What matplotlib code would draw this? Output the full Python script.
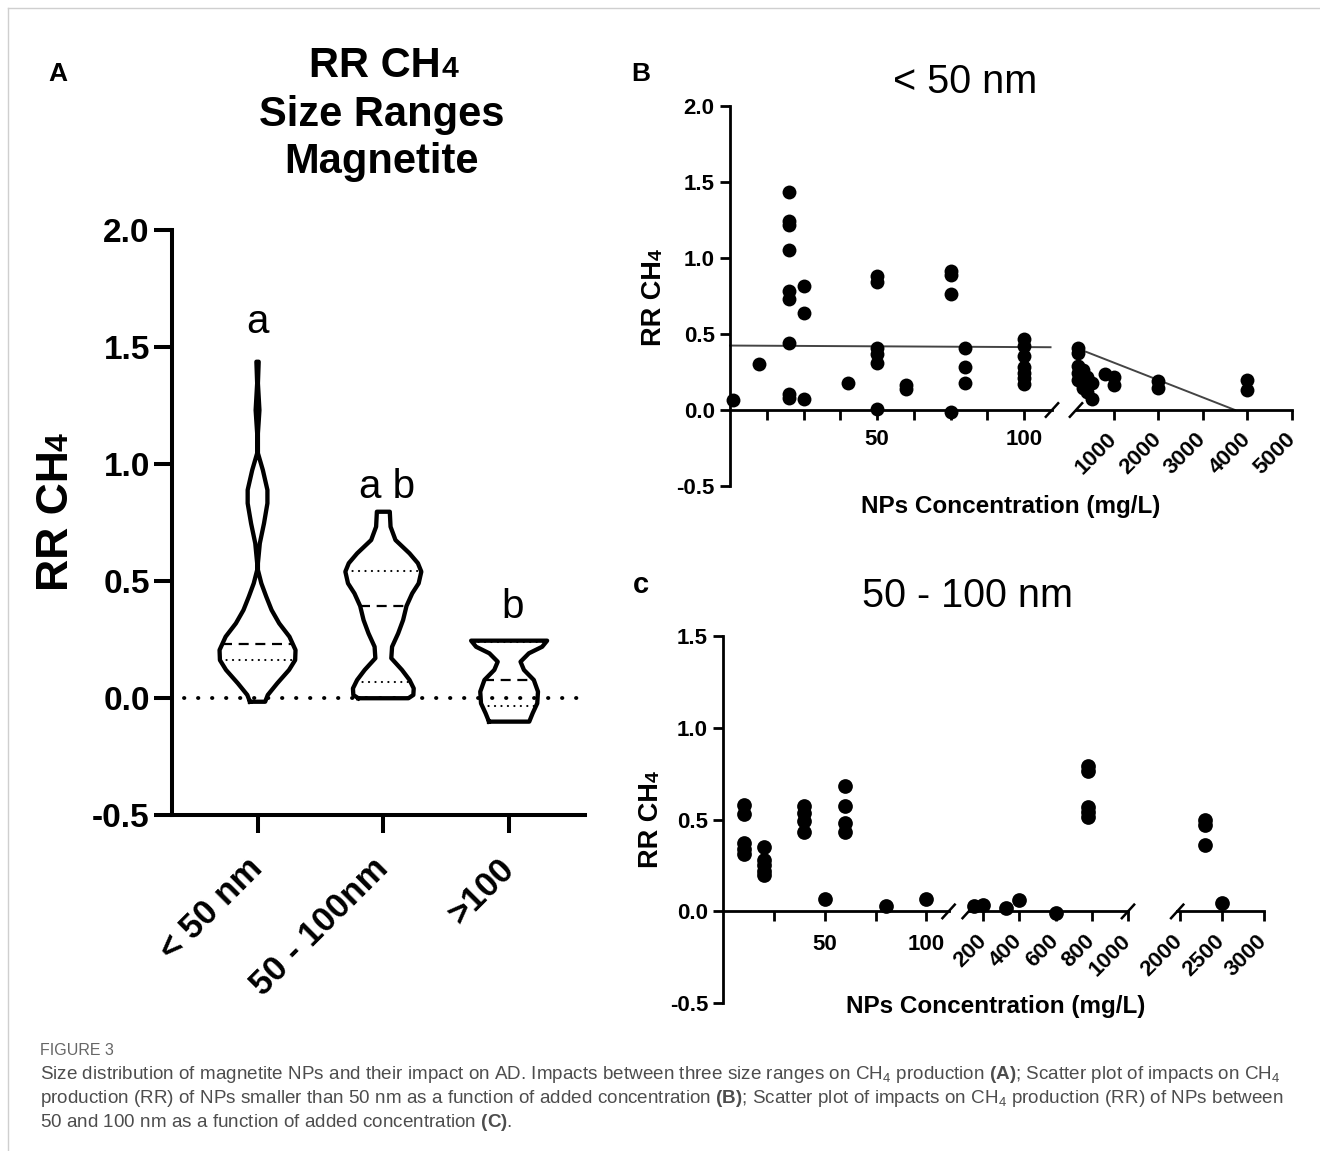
import numpy as np
import matplotlib
matplotlib.use('Agg')
import matplotlib.pyplot as plt
from matplotlib import font_manager
from matplotlib.transforms import blended_transform_factory
from matplotlib.lines import Line2D

plt.rcParams['font.family'] = ['Liberation Sans', 'DejaVu Sans']
plt.rcParams['axes.unicode_minus'] = False

W, H = 1320, 1151

# ---- panel A: violins of RR CH4 per size range ----
SIZE_GROUPS = ['< 50 nm', '50 - 100nm', '>100']
SIG_LETTERS = ['a', 'a b', 'b']
# outline of each violin: RR level and relative density (1 = widest point)
LT50_LEVELS = [-0.016, 0.013, 0.063, 0.12, 0.162, 0.205, 0.262, 0.319, 0.376, 0.433, 0.49,
               0.547, 0.576, 0.661, 0.746, 0.832, 0.889, 0.974, 1.046, 1.131, 1.23, 1.345, 1.437]
LT50_DENS = [0.20, 0.27, 0.52, 0.83, 0.99, 1.0, 0.84, 0.57, 0.37, 0.23, 0.10,
             0.01, 0.01, 0.06, 0.17, 0.26, 0.26, 0.14, 0.01, 0.01, 0.05, 0.01, 0.03]
MID_LEVELS = [-0.001, 0.013, 0.041, 0.077, 0.12, 0.17, 0.219, 0.276, 0.333, 0.393, 0.447,
              0.49, 0.54, 0.576, 0.618, 0.675, 0.732, 0.796]
MID_DENS = [0.66, 0.79, 0.80, 0.69, 0.49, 0.21, 0.23, 0.39, 0.52, 0.61, 0.76,
            0.93, 1.0, 0.91, 0.69, 0.32, 0.19, 0.17]
GT100_LEVELS = [-0.101, -0.065, -0.023, 0.027, 0.077, 0.12, 0.155, 0.191, 0.219, 0.245]
GT100_DENS = [0.53, 0.62, 0.74, 0.76, 0.65, 0.39, 0.30, 0.52, 0.87, 1.0]
MEDIANS = [0.231, 0.393, 0.077]
QUARTILES = [[0.162, 0.55], [0.07, 0.544], [-0.034, 0.24]]
LETTER_Y = [1.558, 0.853, 0.341]

# ---- panel B: < 50 nm ----
B_CONC = [1, 10,
          20, 20, 20, 20, 20, 20, 20, 20, 20,
          25, 25, 25,
          40,
          50, 50, 50, 50, 50, 50,
          60, 60,
          75, 75, 75, 75,
          80, 80, 80,
          100, 100, 100, 100, 100, 100, 100,
          200, 200, 200, 200, 200,
          300, 300, 300,
          400, 400, 400,
          500, 500,
          800,
          1000, 1000,
          2000, 2000,
          4000, 4000]
B_RR = [0.065, 0.305,
        1.435, 1.245, 1.215, 1.05, 0.785, 0.73, 0.44, 0.105, 0.08,
        0.815, 0.64, 0.07,
        0.18,
        0.88, 0.84, 0.405, 0.37, 0.31, 0.005,
        0.165, 0.135,
        0.915, 0.885, 0.76, -0.015,
        0.405, 0.28, 0.18,
        0.465, 0.42, 0.355, 0.28, 0.245, 0.21, 0.17,
        0.41, 0.375, 0.29, 0.245, 0.20,
        0.26, 0.21, 0.145,
        0.22, 0.16, 0.12,
        0.18, 0.075,
        0.24,
        0.22, 0.165,
        0.19, 0.145,
        0.20, 0.13]
B_FIT_LOW_X = [0, 109]
B_FIT_LOW_Y = [0.424, 0.413]
B_FIT_HIGH_X = [350, 3720]
B_FIT_HIGH_Y = [0.386, 0.0]

# ---- panel C: 50 - 100 nm ----
C_CONC = [10, 10, 10, 10, 10,
          20, 20, 20, 20, 20,
          40, 40, 40, 40,
          50,
          60, 60, 60, 60,
          80, 100,
          150, 200, 325, 400, 600,
          780, 780, 780, 780, 780,
          2300, 2300, 2300, 2500]
C_RR = [0.58, 0.53, 0.37, 0.34, 0.31,
        0.35, 0.28, 0.25, 0.22, 0.20,
        0.575, 0.535, 0.49, 0.43,
        0.067,
        0.68, 0.575, 0.48, 0.43,
        0.03, 0.067,
        0.027, 0.035, 0.02, 0.064, -0.01,
        0.79, 0.765, 0.57, 0.54, 0.515,
        0.50, 0.47, 0.36, 0.045]

fig = plt.figure(figsize=(13.2, 11.51), dpi=100)


def px_axes(left, top, right, bottom):
    return fig.add_axes([left / W, 1 - bottom / H, (right - left) / W, (bottom - top) / H])


def fxy(x, y):
    return x / W, 1 - y / H


def ch4_label(x, y, size, rotation=0, ha='center', va='center'):
    # "RR CH" with a smaller 4 sitting on the baseline
    t = fig.text(*fxy(x, y), 'RR CH', fontsize=size, fontweight='bold',
                 rotation=rotation, ha=ha, va=va)
    if rotation == 90:
        axA.annotate('4', xy=(0.78, 1.0), xycoords=t, fontsize=size * 0.72,
                     fontweight='bold', rotation=90, rotation_mode='anchor',
                     ha='left', va='baseline', annotation_clip=False)
    else:
        axA.annotate('4', xy=(1.0, 0.22), xycoords=t, fontsize=size * 0.72,
                     fontweight='bold', ha='left', va='baseline', annotation_clip=False)
    return t


# ---------------- panel A ----------------
axA = px_axes(172, 230, 584.6, 815)
axA.set_xlim(-0.68, 2.6)
axA.set_ylim(-0.5, 2.0)
for s in ('top', 'right'):
    axA.spines[s].set_visible(False)
for s in ('left', 'bottom'):
    axA.spines[s].set_linewidth(2.9)
axA.tick_params(width=2.9, length=13)
axA.tick_params(axis='y', labelsize=24, pad=3)
axA.tick_params(axis='x', labelsize=25, pad=22)
axA.set_yticks(np.arange(-0.5, 2.01, 0.5))
axA.set_yticklabels(['{:.1f}'.format(v) for v in np.arange(-0.5, 2.01, 0.5)], fontweight='bold')
axA.set_xticks(range(len(SIZE_GROUPS)))
axA.set_xticklabels(SIZE_GROUPS, rotation=45, ha='right', va='center',
                    rotation_mode='anchor', fontweight='bold')

axA.axhline(0, xmin=0.03, xmax=1.0, color='k', lw=2.8,
            linestyle=(0, (0.1, 3.5)), dash_capstyle='round', zorder=1)

VIOLIN_HALF = 0.302
profiles = [(LT50_LEVELS, LT50_DENS), (MID_LEVELS, MID_DENS), (GT100_LEVELS, GT100_DENS)]
for i, (lev, dens) in enumerate(profiles):
    lev = np.asarray(lev)
    hw = np.asarray(dens) * VIOLIN_HALF
    xs = np.concatenate([i - hw, (i + hw)[::-1], [i - hw[0]]])
    ys = np.concatenate([lev, lev[::-1], [lev[0]]])
    axA.plot(xs, ys, color='k', lw=3.1, solid_joinstyle='round', zorder=3)
    m = np.interp(MEDIANS[i], lev, dens) * VIOLIN_HALF
    axA.plot([i - m, i + m], [MEDIANS[i]] * 2, color='k', lw=1.6,
             linestyle=(0, (4.5, 3)), zorder=2)
    for q in QUARTILES[i]:
        h = np.interp(q, lev, dens) * VIOLIN_HALF
        axA.plot([i - h, i + h], [q, q], color='k', lw=1.5,
                 linestyle=(0, (0.1, 3)), dash_capstyle='round', zorder=2)
    axA.text(i + (0.03 if i else 0), LETTER_Y[i], SIG_LETTERS[i], fontsize=29,
             ha='center', va='baseline')

# title and axis label of panel A
t1 = fig.text(*fxy(441, 77), 'RR CH', fontsize=30, fontweight='bold', ha='right', va='baseline')
axA.annotate('4', xy=(1.0, 0.22), xycoords=t1, fontsize=30 * 0.72, fontweight='bold',
             ha='left', va='baseline', annotation_clip=False)
fig.text(*fxy(382, 126), 'Size Ranges', fontsize=30, fontweight='bold', ha='center', va='baseline')
fig.text(*fxy(382, 173), 'Magnetite', fontsize=30, fontweight='bold', ha='center', va='baseline')
ch4_label(56, 521, 32, rotation=90)


# ---------------- panels B and C (broken x axes) ----------------
def segment(left, top, right, bottom, xlim, ylim, first):
    ax = px_axes(left, top, right, bottom)
    ax.set_xlim(xlim)
    ax.set_ylim(ylim)
    ax.patch.set_visible(False)
    for s in ('top', 'right'):
        ax.spines[s].set_visible(False)
    ax.spines['bottom'].set_position(('data', 0))
    ax.spines['bottom'].set_linewidth(2.0)
    ax.spines['left'].set_linewidth(2.0)
    ax.tick_params(width=2.0, length=7, labelsize=16)
    if first:
        yt = np.arange(ylim[0], ylim[1] + 0.01, 0.5)
        ax.set_yticks(yt)
        ax.set_yticklabels(['{:.1f}'.format(v) for v in yt], fontweight='bold')
        ax.tick_params(axis='y', pad=4)
    else:
        ax.spines['left'].set_visible(False)
        ax.tick_params(axis='y', left=False, labelleft=False)
    return ax


def break_mark(ax, side, size=7):
    pos = ax.get_position()
    w_px = pos.width * W
    h_px = pos.height * H
    y0, y1 = ax.get_ylim()
    dx = size / w_px
    dy = size * (y1 - y0) / h_px
    xa = 1.0 if side == 'right' else 0.0
    tr = blended_transform_factory(ax.transAxes, ax.transData)
    ax.plot([xa - dx, xa + dx], [-dy * 1.1, dy * 1.1], transform=tr, color='k',
            lw=1.8, clip_on=False, solid_capstyle='butt')


def scatter_seg(ax, conc, rr, ms):
    conc = np.asarray(conc, dtype=float)
    rr = np.asarray(rr)
    lo, hi = ax.get_xlim()
    keep = (conc >= lo) & (conc <= hi)
    ax.plot(conc[keep], rr[keep], 'o', color='k', ms=ms, mew=0, clip_on=False, zorder=3)


def rot_labels(ax, ticks, pad):
    ax.set_xticks(ticks)
    ax.set_xticklabels([str(t) for t in ticks], rotation=45, ha='right', va='center',
                       rotation_mode='anchor', fontweight='bold', fontsize=16)
    ax.tick_params(axis='x', pad=pad)


# panel B
b1 = segment(730, 106, 1052, 486, (0, 109.5), (-0.5, 2.0), True)
b1.set_xticks(np.arange(12.5, 100.1, 12.5))
b1.set_xticklabels(['', '', '', '50', '', '', '', '100'], fontweight='bold')
b1.tick_params(axis='x', pad=7)
b2 = segment(1076, 106, 1292, 486, (150, 5000), (-0.5, 2.0), False)
rot_labels(b2, [1000, 2000, 3000, 4000, 5000], 12)
scatter_seg(b1, B_CONC, B_RR, 10)
scatter_seg(b2, B_CONC, B_RR, 10)
b1.plot(B_FIT_LOW_X, B_FIT_LOW_Y, color='#444444', lw=1.4, clip_on=False, zorder=2)
b2.plot(B_FIT_HIGH_X, B_FIT_HIGH_Y, color='#444444', lw=1.4, clip_on=False, zorder=2)
break_mark(b1, 'right')
break_mark(b2, 'left')

# panel C
c1 = segment(723.3, 635.7, 948.6, 1003.3, (0, 111), (-0.5, 1.5), True)
c1.set_xticks([25, 50, 75, 100])
c1.set_xticklabels(['', '50', '', '100'], fontweight='bold')
c1.tick_params(axis='x', pad=9)
c2 = segment(968.7, 635.7, 1128, 1003.3, (120, 1000), (-0.5, 1.5), False)
rot_labels(c2, [200, 400, 600, 800, 1000], 12)
c3 = segment(1177.2, 635.7, 1263.9, 1003.3, (1970, 3000), (-0.5, 1.5), False)
rot_labels(c3, [2000, 2500, 3000], 12)
for ax in (c1, c2, c3):
    scatter_seg(ax, C_CONC, C_RR, 10.6)
break_mark(c1, 'right')
break_mark(c2, 'left')
break_mark(c2, 'right')
break_mark(c3, 'left')

# titles and labels for B and C
fig.text(*fxy(965, 93), '< 50 nm', fontsize=28.5, ha='center', va='baseline')
fig.text(*fxy(967, 607), '50 - 100 nm', fontsize=28.5, ha='center', va='baseline')
ch4_label(654, 303, 19.5, rotation=90)
ch4_label(651, 825, 19.5, rotation=90)
fig.text(*fxy(1011, 507), 'NPs Concentration (mg/L)', fontsize=17.5, fontweight='bold',
         ha='center', va='center')
fig.text(*fxy(996, 1006), 'NPs Concentration (mg/L)', fontsize=17.5, fontweight='bold',
         ha='center', va='center')

# panel letters
fig.text(*fxy(48, 81), 'A', fontsize=19, fontweight='bold', va='baseline')
fig.text(*fxy(631, 81), 'B', fontsize=19, fontweight='bold', va='baseline')
fig.text(*fxy(633, 593), 'c', fontsize=21, fontweight='bold', va='baseline')

# ---------------- caption ----------------
names = {f.name for f in font_manager.fontManager.ttflist}
cap_family = 'Liberation Sans Narrow' if 'Liberation Sans Narrow' in names else 'Liberation Sans'
plt.rcParams['mathtext.fontset'] = 'custom'
plt.rcParams['mathtext.rm'] = cap_family
plt.rcParams['mathtext.bf'] = cap_family + ':bold'

cap_color = '#4d4d4d'
cap_lines = [
    r'Size distribution of magnetite NPs and their impact on AD. Impacts between three size ranges on CH$_4$ production $\mathbf{(A)}$; Scatter plot of impacts on CH$_4$',
    r'production (RR) of NPs smaller than 50 nm as a function of added concentration $\mathbf{(B)}$; Scatter plot of impacts on CH$_4$ production (RR) of NPs between',
    r'50 and 100 nm as a function of added concentration $\mathbf{(C)}$.',
]
cap_texts = []
for k, line in enumerate(cap_lines):
    cap_texts.append(fig.text(*fxy(40, 1079 + 24 * k), line, fontsize=12, color=cap_color,
                              family=cap_family, va='baseline'))
fig_lbl = fig.text(*fxy(40, 1055), 'FIGURE 3', fontsize=10, color='#666666',
                   family=cap_family, va='baseline')

fig.canvas.draw()
renderer = fig.canvas.get_renderer()
w1 = cap_texts[0].get_window_extent(renderer).width
w2 = cap_texts[1].get_window_extent(renderer).width
size = 12 * 0.5 * (1215 / w1 + 1258 / w2)
for t in cap_texts:
    t.set_fontsize(size)
fig_lbl.set_fontsize(size * 0.85)

# page frame lines
fig.add_artist(Line2D([8 / W, 8 / W], [0, 1 - 8 / H], color='#cfcfcf', lw=1))
fig.add_artist(Line2D([8 / W, 1], [1 - 8 / H, 1 - 8 / H], color='#cfcfcf', lw=1))

fig.savefig('out.png', dpi=100)
